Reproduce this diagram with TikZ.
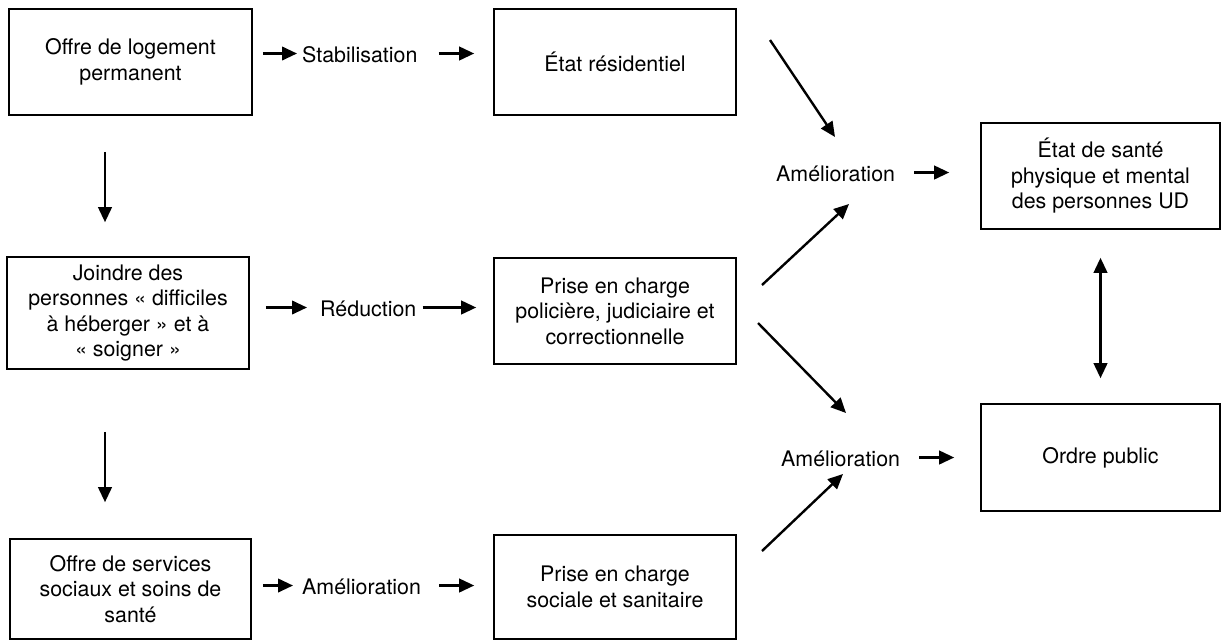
\documentclass[tikz,border=0pt]{standalone}
\usepackage{fontspec}
\setmainfont{TeX Gyre Heros}
\usetikzlibrary{arrows.meta,calc}
\begin{document}
\begin{tikzpicture}[x=1pt,y=-1pt,
  box/.style={draw, line width=1.6pt, align=center, inner sep=0pt, font=\fontsize{21.4}{25.5}\selectfont},
  lab/.style={inner sep=0pt, anchor=west, text height=17pt, text depth=0pt, font=\fontsize{21.4}{25.5}\selectfont},
  arr/.style={line width=2.4pt, -{Triangle[length=15pt,width=13.5pt]}},
  darr/.style={line width=2.4pt, {Triangle[length=15pt,width=13.5pt]}-{Triangle[length=15pt,width=13.5pt]}}]
\useasboundingbox (0,0) rectangle (1222,641);
% boxes
\node[box, minimum width=243pt, minimum height=106pt] (A) at (130.5,62) {Offre de logement\\permanent};
\node[box, minimum width=242pt, minimum height=106pt] (B) at (615,62) {État résidentiel};
\node[box, minimum width=242pt, minimum height=112pt] (C) at (128,313) {Joindre des\\personnes «~difficiles\\à héberger~» et à\\«~soigner~»};
\node[box, minimum width=242pt, minimum height=106pt] (D) at (615,311) {Prise en charge\\policière, judiciaire et\\correctionnelle};
\node[box, minimum width=241pt, minimum height=100pt] (E) at (130.5,589) {Offre de services\\sociaux et soins de\\santé};
\node[box, minimum width=242pt, minimum height=104pt] (F) at (615,587) {Prise en charge\\sociale et sanitaire};
\node[box, minimum width=239pt, minimum height=106pt] (G) at (1100.5,176) {État de santé\\physique et mental\\des personnes UD};
\node[box, minimum width=239pt, minimum height=107pt] (O) at (1100.5,457.5) {Ordre public};
% labels
\node[lab] (stab) at (302,53.5) {Stabilisation};
\node[lab] (red) at (320,307.5) {Réduction};
\node[lab] (am3) at (302,585.5) {Amélioration};
\node[lab] (am1) at (776,172.5) {Amélioration};
\node[lab] (am2) at (781,457.5) {Amélioration};
% horizontal arrows
\draw[arr, shorten <=10pt, shorten >=5pt] (A.east |- stab.west) -- (stab.west);
\draw[arr, shorten <=21pt, shorten >=19pt] (stab.east) -- (B.west |- stab.east);
\draw[arr, shorten <=16pt, shorten >=13pt] (C.east |- red.west) -- (red.west);
\draw[arr, shorten <=6pt, shorten >=17pt] (red.east) -- (D.west |- red.east);
\draw[arr, shorten <=11pt, shorten >=9pt] (E.east |- am3.west) -- (am3.west);
\draw[arr, shorten <=18pt, shorten >=19pt] (am3.east) -- (F.west |- am3.east);
\draw[arr, shorten <=19pt, shorten >=31pt] (am1.east) -- (G.west |- am1.east);
\draw[arr, shorten <=19pt, shorten >=26pt] (am2.east) -- (O.west |- am2.east);
% vertical arrows
\coordinate (vx) at (105,0);
\draw[arr, shorten <=36pt, shorten >=34pt] (A.south -| vx) -- (C.north -| vx);
\draw[arr, shorten <=62pt, shorten >=36pt] (C.south -| vx) -- (E.north -| vx);
\draw[darr, shorten <=28pt, shorten >=25pt] (G.south) -- (O.north);
% diagonal arrows
\coordinate (s1) at (770,40);  \coordinate (t1) at (835,137);
\coordinate (s2) at (762,285); \coordinate (t2) at (849,204);
\coordinate (s3) at (758,323); \coordinate (t3) at (846,413);
\coordinate (s4) at (762,551); \coordinate (t4) at (843,474);
\draw[arr] (s1) -- (t1);
\draw[arr] (s2) -- (t2);
\draw[arr] (s3) -- (t3);
\draw[arr] (s4) -- (t4);
\end{tikzpicture}
\end{document}
